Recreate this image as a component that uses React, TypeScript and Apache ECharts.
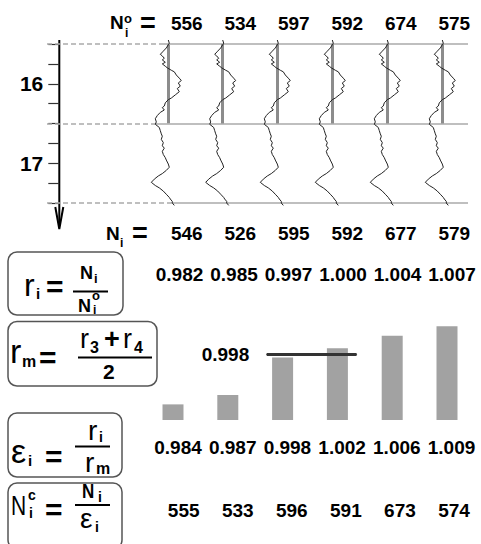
import { useEffect, useRef } from "react";
import * as echarts from "echarts";

// ---- data ----
const wells = ["1", "2", "3", "4", "5", "6"];
const nOriginal = [556, 534, 597, 592, 674, 575];
const nMeasured = [546, 526, 595, 592, 677, 579];
const ratioValues = [0.982, 0.985, 0.997, 1.0, 1.004, 1.007];
const ratioMean = 0.998;
const epsilonValues = [0.984, 0.987, 0.998, 1.002, 1.006, 1.009];
const nCorrected = [555, 533, 596, 591, 673, 574];

// depth axis (top panel)
const depthMin = 15.5;
const depthMax = 17.5;
const depthStep = 0.25;
const markerDepths = [15.5, 16.5, 17.5];

// one log trace (depth, deflection) repeated in each track
const logDepths = [15.45, 15.49, 15.51, 15.55, 15.59, 15.63, 15.65, 15.68, 15.7, 15.73, 15.75, 15.78, 15.8, 15.83, 15.85, 15.89, 15.93, 15.96, 15.99, 16.03, 16.06, 16.1, 16.14, 16.18, 16.2, 16.24, 16.28, 16.3, 16.33, 16.36, 16.4, 16.44, 16.48, 16.51, 16.55, 16.59, 16.63, 16.66, 16.7, 16.74, 16.78, 16.81, 16.85, 16.89, 16.93, 16.96, 17.01, 17.05, 17.09, 17.13, 17.16, 17.2, 17.24, 17.28, 17.31, 17.35, 17.39, 17.43, 17.45, 17.48, 17.5, 17.53];
const logValues = [0, 1, 0, -2, -5, -8, -6, -4, -6, -3, -6, -3, -1, 3, 6, 8, 11, 13, 10, 12, 9, 11, 7, 3, 0, -3, -4, -6, -4, -8, -11, -13, -12, -13, -9, -8, -7, -6, -7, -5, -6, -4, -6, -5, -3, -2, 0, 1, -2, -6, -10, -14, -17, -13, -9, -5, -2, 1, 2, 4, 4, 6];
const trackOffsets = [121.3, 175.7, 230.3, 285.3, 340.3, 395.3];

const FONT = "'Liberation Sans', Arial, Helvetica, sans-serif";

function txt(text: string, x: number, baseline: number, size: number, weight = "normal", sx = 1) {
  return {
    type: "text",
    x,
    y: baseline - 0.35 * size,
    scaleX: sx,
    silent: true,
    style: { text, fontSize: size, fontWeight: weight, fontFamily: FONT, fill: "#000", verticalAlign: "middle", align: "left" },
  };
}
function eq(x: number, cy: number, size = 28) {
  return { type: "text", x, y: cy, silent: true, style: { text: "=", fontSize: size, fontWeight: "bold", fontFamily: FONT, fill: "#000", verticalAlign: "middle", align: "left" } };
}
function hline(x1: number, x2: number, y: number, w = 2) {
  return { type: "line", silent: true, shape: { x1, y1: y, x2, y2: y }, style: { stroke: "#000", lineWidth: w } };
}
function box(x: number, y: number, w: number, h: number) {
  return { type: "rect", silent: true, shape: { x, y, width: w, height: h, r: 9 }, style: { fill: "#fff", stroke: "#555", lineWidth: 1.5 } };
}

function rowAxis(gridIndex: number, data: string[]) {
  return {
    gridIndex,
    type: "category",
    data,
    axisLine: { show: false },
    axisTick: { show: false },
    splitLine: { show: false },
    axisLabel: { interval: 0, margin: 0, verticalAlign: "middle", fontSize: 19, fontWeight: "bold", color: "#000", fontFamily: FONT },
  };
}

export default function App() {
  const ref = useRef<HTMLDivElement>(null);
  useEffect(() => {
    if (!ref.current) return;
    const chart = echarts.init(ref.current, null, { renderer: "svg" });

    const refLines = markerDepths.flatMap((d, k) => {
      const solidStart = [113, 106, 126][k];
      return [
        [
          { coord: [0, d], lineStyle: { color: "#aaa", width: 1.5, type: [5, 3] } },
          { coord: [solidStart, d] },
        ],
        [
          { coord: [solidStart, d], lineStyle: { color: "#aaa", width: 1.5, type: "solid" } },
          { coord: [421, d] },
        ],
      ];
    });

    const curveSeries = trackOffsets.map((base, i) => ({
      type: "line",
      xAxisIndex: 0,
      yAxisIndex: 0,
      data: logDepths.map((d, j) => [base + logValues[j], d]),
      showSymbol: false,
      clip: false,
      silent: true,
      z: 4,
      lineStyle: { color: "#222", width: 1 },
      markLine: {
        silent: true,
        symbol: "none",
        z: 3,
        label: { show: false },
        data: [
          [
            { coord: [base, depthMin], lineStyle: { color: "#8c8c8c", width: 3, type: "solid" } },
            { coord: [base, 16.5] },
          ],
          ...(i === 0 ? refLines : []),
        ],
      },
    }));

    const option: any = {
      animation: false,
      textStyle: { fontFamily: FONT },
      grid: [
        { left: 47, right: 13, top: 44, height: 159 },
        { left: 160, right: 0, top: 22, height: 1 },
        { left: 160, right: 0, top: 232, height: 1 },
        { left: 152.25, right: 1.75, top: 273, height: 1 },
        { left: 145.6, right: 6.6, top: 320, height: 100 },
        { left: 150.65, right: 2.15, top: 446, height: 1 },
        { left: 156.65, right: -3.85, top: 509, height: 1 },
      ],
      xAxis: [
        { gridIndex: 0, type: "value", min: 0, max: 421, show: false },
        rowAxis(1, nOriginal.map(String)),
        rowAxis(2, nMeasured.map(String)),
        rowAxis(3, ratioValues.map((v) => v.toFixed(3))),
        { gridIndex: 4, type: "category", data: wells, show: false },
        { gridIndex: 4, type: "value", min: -0.5, max: 5.5, show: false },
        rowAxis(5, epsilonValues.map((v) => v.toFixed(3))),
        rowAxis(6, nCorrected.map(String)),
      ],
      yAxis: [
        {
          gridIndex: 0,
          type: "value",
          inverse: true,
          min: depthMin,
          max: depthMax,
          interval: depthStep,
          position: "left",
          offset: -12.3,
          axisLine: { show: false },
          axisTick: { show: true, length: 11, lineStyle: { color: "#333", width: 1.2 } },
          splitLine: { show: false },
          axisLabel: {
            margin: 16,
            fontSize: 21,
            fontWeight: "bold",
            color: "#000",
            formatter: (v: number) => (Math.abs(v - Math.round(v)) < 1e-6 ? String(Math.round(v)) : ""),
          },
        },
        { gridIndex: 1, type: "value", show: false },
        { gridIndex: 2, type: "value", show: false },
        { gridIndex: 3, type: "value", show: false },
        { gridIndex: 4, type: "value", min: 0.977, max: 1.009, show: false },
        { gridIndex: 5, type: "value", show: false },
        { gridIndex: 6, type: "value", show: false },
      ],
      series: [
        ...curveSeries,
        {
          type: "bar",
          xAxisIndex: 4,
          yAxisIndex: 4,
          data: ratioValues,
          barWidth: 21,
          silent: true,
          itemStyle: { color: "#a2a2a2" },
        },
        {
          type: "line",
          xAxisIndex: 5,
          yAxisIndex: 4,
          silent: true,
          z: 5,
          symbol: "circle",
          symbolSize: 1,
          itemStyle: { color: "#333" },
          lineStyle: { color: "#333", width: 3 },
          data: [
            {
              value: [1.71, ratioMean],
              label: {
                show: true,
                position: "left",
                distance: 17,
                formatter: ratioMean.toFixed(3),
                fontSize: 19,
                fontWeight: "bold",
                color: "#000",
              },
            },
            { value: [3.35, ratioMean] },
          ],
        },
      ],
      graphic: [
        // depth arrow
        { type: "line", silent: true, shape: { x1: 59.3, y1: 40, x2: 59.3, y2: 226 }, style: { stroke: "#000", lineWidth: 2 } },
        { type: "polyline", silent: true, shape: { points: [[55.3, 207], [59.3, 229], [63.3, 207]] }, style: { stroke: "#000", lineWidth: 2, fill: "none" } },
        // N_i^o =
        txt("N", 110, 29.5, 19, "bold"),
        txt("o", 124, 23, 13, "bold"),
        txt("i", 125, 37, 12, "bold"),
        eq(140, 23, 27),
        // N_i =
        txt("N", 106, 240, 19, "bold"),
        txt("i", 120, 247, 12, "bold"),
        eq(132, 233, 27),
        // box r_i
        box(8, 252, 115, 63),
        txt("r", 24, 296, 32),
        txt("i", 36, 299, 15, "bold"),
        eq(46, 286, 30),
        txt("N", 80, 279, 18, "bold"),
        txt("i", 94, 283, 13, "bold"),
        hline(73, 108, 291.5),
        txt("N", 78, 312, 18, "bold"),
        txt("o", 92, 300, 13, "bold"),
        txt("i", 93, 314, 12, "bold"),
        // box r_m
        box(8, 321.5, 149, 64.5),
        txt("r", 10, 363, 34),
        txt("m", 22, 367, 16, "bold"),
        eq(39, 357, 30),
        txt("r", 80, 348, 27),
        txt("3", 90, 353, 16, "bold"),
        txt("+", 104, 348, 27, "bold"),
        txt("r", 123, 348, 27),
        txt("4", 134, 353, 16, "bold"),
        hline(78, 152, 357.5),
        txt("2", 103, 379, 21, "bold"),
        // box epsilon
        box(8, 413, 114, 64),
        txt("ε", 11, 463, 34),
        txt("i", 28, 466, 15, "bold"),
        eq(45, 456, 30),
        txt("r", 88, 440, 28),
        txt("i", 99, 442, 14, "bold"),
        hline(75, 110, 446.5),
        txt("r", 85, 472, 28),
        txt("m", 96, 474, 16, "bold"),
        // box N^c
        box(8, 483, 114, 66),
        txt("N", 11, 515, 28, "normal", 0.75),
        txt("c", 28, 500, 14, "bold"),
        txt("i", 29, 518, 14, "bold"),
        eq(45, 509, 30),
        txt("N", 82, 498, 20, "bold", 0.85),
        txt("i", 98, 502, 14, "bold"),
        hline(75, 110, 505),
        txt("ε", 80, 528, 28),
        txt("i", 95, 532, 14, "bold"),
      ],
    };
    chart.setOption(option);
    return () => chart.dispose();
  }, []);
  return <div ref={ref} style={{ position: "fixed", left: 0, top: 0, width: 481, height: 544, background: "#fff" }} />;
}
